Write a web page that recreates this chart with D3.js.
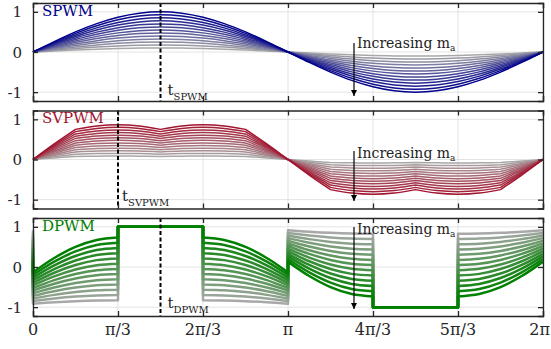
<!DOCTYPE html>
<html>
<head>
<meta charset="utf-8">
<script src="https://cdn.jsdelivr.net/npm/d3@7"></script>
<style>
  body { margin: 0; background: #fff; }
  svg { display: block; }
  text { font-family: "DejaVu Serif", "Liberation Serif", serif; }
</style>
</head>
<body>
<div id="chart"></div>
<script>
// x ticks every pi/3, curves sampled every pi/12 (k = 0..24)
const xTickLabels = ["0", "π/3", "2π/3", "π", "4π/3", "5π/3", "2π"];
const yTicks = [-1, 0, 1];

// modulation indices, one curve each (grey -> colour)
const maValues = [0.1, 0.175, 0.25, 0.325, 0.4, 0.475, 0.55, 0.625, 0.7, 0.775, 0.85, 0.925, 1.0];

// normalised references (m_a = 1), read at k*pi/12
const spwmShape = [0, 0.259, 0.5, 0.707, 0.866, 0.966, 1, 0.966, 0.866, 0.707, 0.5, 0.259, 0,
                   -0.259, -0.5, -0.707, -0.866, -0.966, -1, -0.966, -0.866, -0.707, -0.5, -0.259, 0];
const svpwmShape = [0, 0.388, 0.75, 0.837, 0.866, 0.837, 0.75, 0.837, 0.866, 0.837, 0.75, 0.388, 0,
                    -0.388, -0.75, -0.837, -0.866, -0.837, -0.75, -0.837, -0.866, -0.837, -0.75, -0.388, 0];
const svpwmKinks = [0, 2, 6, 10, 14, 18, 22, 24];

// DPWM: clamp rail + m_a * swing, per 60 degree sector
const dpwmRails = [-1, 1, -1, 1, -1, 1];
const dpwmSwing = [
  [0.866, 1.225, 1.5, 1.673, 1.732],
  [0, 0, 0, 0, 0],
  [1.732, 1.673, 1.5, 1.225, 0.866],
  [-0.866, -1.225, -1.5, -1.673, -1.732],
  [0, 0, 0, 0, 0],
  [-1.732, -1.673, -1.5, -1.225, -0.866]
];

const W = 551, H = 349;
const left = 33, right = 543;
const panelTops = [3, 110.5, 218];
const panelH = 98;

const svg = d3.select("#chart").append("svg")
    .attr("width", W).attr("height", H);

const x = d3.scaleLinear().domain([0, 24]).range([left, right]);
const xTickVals = d3.range(0, 25, 4);

const defs = svg.append("defs");
defs.append("marker")
    .attr("id", "arrow")
    .attr("viewBox", "0 0 10 10")
    .attr("refX", 10).attr("refY", 5)
    .attr("markerWidth", 6).attr("markerHeight", 8)
    .attr("markerUnits", "userSpaceOnUse")
    .attr("orient", "auto")
  .append("path")
    .attr("d", "M0,0 L10,5 L0,10 z")
    .attr("fill", "#000");

const pt = (k, v) => ({k: k, v: v});

function svpwmSegments(m) {
    const segs = [];
    for (let i = 0; i < svpwmKinks.length - 1; i++) {
        const s = [];
        for (let k = svpwmKinks[i]; k <= svpwmKinks[i + 1]; k++) s.push(pt(k, m * svpwmShape[k]));
        segs.push(s);
    }
    return segs;
}

function spwmSegments(m) {
    return [spwmShape.map((v, k) => pt(k, m * v))];
}

function dpwmSegments(m) {
    // wrap-around jump at theta = 0
    const segs = [[pt(0, dpwmRails[5] + m * dpwmSwing[5][4]), pt(0, dpwmRails[0] + m * dpwmSwing[0][0])]];
    dpwmRails.forEach((rail, s) => {
        segs.push(dpwmSwing[s].map((sw, j) => pt(4 * s + j, rail + m * sw)));
    });
    return segs;
}

const panels = [
    {name: "SPWM", color: "#00008b", segs: spwmSegments, width: 1.5, marker: 6,
     tSub: "SPWM", tDx: 7, tY: 95},
    {name: "SVPWM", color: "#a2142f", segs: svpwmSegments, width: 1.5, marker: 4,
     tSub: "SVPWM", tDx: 4, tY: 201},
    {name: "DPWM", color: "#008000", segs: dpwmSegments, width: 2.5, marker: 6,
     tSub: "DPWM", tDx: 7, tY: 308}
];

panels.forEach((p, pi) => {
    const top = panelTops[pi];
    const y = d3.scaleLinear().domain([-1.22, 1.22]).range([top + panelH, top]);
    const g = svg.append("g");

    // grid
    g.selectAll(".vg").data(xTickVals).enter().append("line")
        .attr("x1", d => x(d)).attr("x2", d => x(d))
        .attr("y1", top).attr("y2", top + panelH)
        .attr("stroke", "#e3e3e3").attr("stroke-width", 1);
    g.selectAll(".hg").data(yTicks).enter().append("line")
        .attr("x1", left).attr("x2", right)
        .attr("y1", d => y(d)).attr("y2", d => y(d))
        .attr("stroke", "#e3e3e3").attr("stroke-width", 1);

    // curves
    const gen = d3.line().x(d => x(d.k)).y(d => y(d.v)).curve(d3.curveCatmullRom);
    const colorOf = d3.scaleLinear().domain([0, maValues.length - 1])
        .range(["#a8a8a8", p.color]).interpolate(d3.interpolateRgb);
    g.selectAll(".curve").data(maValues).enter().append("path")
        .attr("d", m => p.segs(m).map((s, i) => i ? gen(s).replace(/^M/, "L") : gen(s)).join(""))
        .attr("fill", "none")
        .attr("stroke", (m, i) => colorOf(i))
        .attr("stroke-width", p.width)
        .attr("stroke-linejoin", "round");

    // marker line
    g.append("line")
        .attr("x1", x(p.marker)).attr("x2", x(p.marker))
        .attr("y1", top).attr("y2", top + panelH)
        .attr("stroke", "#000").attr("stroke-width", 2)
        .attr("stroke-dasharray", "4,2.5");
    const tl = g.append("text").attr("x", x(p.marker) + p.tDx).attr("y", p.tY)
        .attr("font-size", 15).attr("fill", "#222");
    tl.append("tspan").text("t");
    tl.append("tspan").attr("dy", 5).attr("font-size", 10).text(p.tSub);

    // increasing m_a annotation
    const ax = 354;
    const annTop = [43, 151, 227][pi];
    const annBot = [96, 201, 309][pi];
    g.append("line")
        .attr("x1", ax).attr("x2", ax).attr("y1", annTop).attr("y2", annBot)
        .attr("stroke", "#000").attr("stroke-width", 1.2)
        .attr("marker-end", "url(#arrow)");
    const it = g.append("text").attr("x", 357).attr("y", [48, 158, 234][pi])
        .attr("font-size", 14).attr("fill", "#222");
    it.append("tspan").text("Increasing m");
    it.append("tspan").attr("dy", 3).attr("font-size", 9).text("a");

    // panel name
    g.append("text").attr("x", 42).attr("y", top + 12.5)
        .attr("font-size", 15).attr("fill", p.color)
        .text(p.name);

    // frame + inward ticks
    const axBottom = d3.axisBottom(x).tickValues(xTickVals).tickSize(-5).tickFormat("");
    const axTop = d3.axisTop(x).tickValues(xTickVals).tickSize(-5).tickFormat("");
    const axLeft = d3.axisLeft(y).tickValues(yTicks).tickSize(-5).tickFormat("");
    const axRight = d3.axisRight(y).tickValues(yTicks).tickSize(-5).tickFormat("");
    const frame = [
        g.append("g").attr("transform", `translate(0,${top + panelH})`).call(axBottom),
        g.append("g").attr("transform", `translate(0,${top})`).call(axTop),
        g.append("g").attr("transform", `translate(${left},0)`).call(axLeft),
        g.append("g").attr("transform", `translate(${right},0)`).call(axRight)
    ];
    frame.forEach(a => {
        a.select(".domain").attr("stroke", "#262626").attr("stroke-width", 1.3);
        a.selectAll(".tick line").attr("stroke", "#262626").attr("stroke-width", 1.3);
    });

    // y tick labels
    g.selectAll(".ylab").data(yTicks).enter().append("text")
        .attr("x", 22).attr("y", d => y(d) + 5.5)
        .attr("text-anchor", "end").attr("font-size", 15).attr("fill", "#262626")
        .text(d => d);

    // x tick labels under the last panel (last one kept inside the window)
    if (pi === panels.length - 1) {
        const last = xTickVals.length - 1;
        g.selectAll(".xlab").data(xTickVals).enter().append("text")
            .attr("x", (d, i) => i === last ? W - 1 : x(d)).attr("y", 335)
            .attr("text-anchor", (d, i) => i === last ? "end" : "middle")
            .attr("font-size", 16).attr("fill", "#262626")
            .text((d, i) => xTickLabels[i]);
    }
});
</script>
</body>
</html>
